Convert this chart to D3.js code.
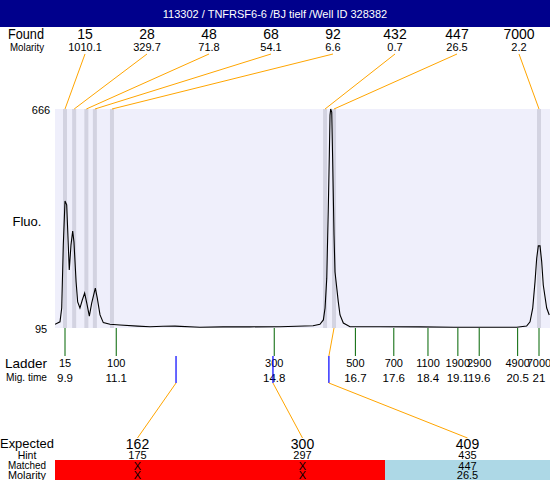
<!DOCTYPE html>
<html><head><meta charset="utf-8">
<script src="https://cdn.jsdelivr.net/npm/d3@7"></script>
<style>
body{margin:0;background:#fff;}
svg text{font-family:"Liberation Sans",Arial,sans-serif;}
</style></head>
<body>
<svg id="c" width="550" height="480"></svg>
<script>
const title = "113302 / TNFRSF6-6 /BJ tielf /Well ID 328382";
const foundSizes = ["15","28","48","68","92","432","447","7000"];
const foundMolarity = ["1010.1","329.7","71.8","54.1","6.6","0.7","26.5","2.2"];
const foundTimes = [9.9, 10.115, 10.40, 10.60, 11.0, 15.99, 16.2, 21.0];
const ladderSizes = ["15","100","300","500","700","1100","1900","2900","4900","7000"];
const ladderTimes = [9.9, 11.1, 14.8, 16.7, 17.6, 18.4, 19.1, 19.6, 20.5, 21];
const ladderTimeLabels = ["9.9","11.1","14.8","16.7","17.6","18.4","19.1","19.6","20.5","21"];
const expected = ["162","300","409"];
const expectedTimes = [12.50, 14.77, 16.08];
const hints = ["175","297","435"];
const matched = ["X","X","447"];
const matchedMolarity = ["X","X","26.5"];
const matchedFoundIndex = [null, null, 6];
const yTicks = [95, 666];
const traceTime = [9.666,9.783,9.823,9.86,9.9,9.94,9.977,10.0,10.04,10.08,10.11,10.16,10.197,10.25,10.305,10.36,10.41,10.47,10.525,10.61,10.656,10.72,10.797,10.954,11.188,11.6,11.89,12.195,12.476,13.06,13.6,14.23,14.935,15.708,15.87,15.95,15.99,16.03,16.066,16.09,16.106,16.122,16.146,16.169,16.2,16.223,16.3,16.34,16.418,16.574,17.277,18.214,19.0,19.619,20.478,20.71,20.79,20.853,20.907,20.946,20.984,21.024,21.063,21.1,21.18,21.24];
const traceFluo = [104.6,111,147,311,426,416,311,246,311,348,319,215,163,147,168,186,160,126,160,199,173,129,109,104.6,103,100,98.4,99.5,100,97,98,98,98.4,101,104.6,116,147,225,408,546,650,666,658,528,337,241,163,129,108,98.4,98.4,98,97,97,96.8,100,111,147,216,277,309,309,268,207,147,129];

const svg = d3.select("#c");
const W = 550, H = 480;
const plot = {left:55, right:550, top:109, bottom:328};

const x = d3.scaleLinear().domain([9.9, 21]).range([65, 539]);
const y = d3.scaleLinear().domain([95, 666]).range([plot.bottom, plot.top]);
const foundCol = d3.scalePoint().domain(d3.range(foundSizes.length)).range([85, 519]);
const expCol = d3.scaleBand().domain(d3.range(expected.length)).range([55, 550]);

// Title bar
svg.append("rect").attr("x",0).attr("y",0).attr("width",W).attr("height",27).attr("fill","#00008C");
svg.append("text").attr("x",275).attr("y",17.5).attr("text-anchor","middle").attr("fill","#fff").attr("font-size",11).text(title);

// Row labels
const lab = (t,xx,yy,fs,len)=>{
  const s = svg.append("text").attr("x",xx).attr("y",yy).attr("text-anchor","middle").attr("dominant-baseline","central").attr("font-size",fs).attr("fill","#000").text(t);
  if(len) s.attr("textLength",len).attr("lengthAdjust","spacingAndGlyphs");
  return s;
};
lab("Found",26,34,14,36);
lab("Molarity",27,46.5,10.5,34);
lab("Fluo.",27,221,13,29);
lab("Ladder",26,363,13,42);
lab("Mig. time",26.5,377,11,41);
lab("Expected",27,443,13.5,54);
lab("Hint",27,454.5,10.5);
lab("Matched",27,465,10.5,38);
lab("Molarity",27,474.5,10.5,38);

// Plot background
svg.append("rect").attr("x",plot.left).attr("y",plot.top).attr("width",plot.right-plot.left).attr("height",plot.bottom-plot.top).attr("fill","#EFEFFB");

// Found bands
svg.append("g").selectAll("rect").data(foundTimes).join("rect")
  .attr("x",d=>x(d)-2).attr("y",plot.top).attr("width",4).attr("height",plot.bottom-plot.top)
  .attr("fill","#D3D3E1");

// y tick labels
svg.append("g").selectAll("text").data(yTicks).join("text")
  .attr("x",41).attr("y",d=>y(d)+1).attr("text-anchor","middle").attr("dominant-baseline","central")
  .attr("font-size",11).text(d=>d);

// Trace
svg.append("clipPath").attr("id","pc").append("rect")
  .attr("x",plot.left).attr("y",plot.top-1).attr("width",plot.right-plot.left).attr("height",plot.bottom-plot.top+1);
const line = d3.line().x(d=>x(d[0])).y(d=>y(d[1]));
svg.append("path").attr("d",line(traceTime.map((t,i)=>[t,traceFluo[i]])))
  .attr("fill","none").attr("stroke","#000").attr("stroke-width",1.1).attr("clip-path","url(#pc)");

// Found labels + connectors
svg.append("g").selectAll("text").data(foundSizes).join("text")
  .attr("x",(d,i)=>foundCol(i)).attr("y",34).attr("text-anchor","middle").attr("dominant-baseline","central")
  .attr("font-size",14).text(d=>d);
svg.append("g").selectAll("text").data(foundMolarity).join("text")
  .attr("x",(d,i)=>foundCol(i)).attr("y",46.5).attr("text-anchor","middle").attr("dominant-baseline","central")
  .attr("font-size",11).text(d=>d);
svg.append("g").selectAll("line").data(foundTimes).join("line")
  .attr("x1",(d,i)=>foundCol(i)).attr("y1",54).attr("x2",d=>x(d)).attr("y2",plot.top)
  .attr("stroke","#FFA500").attr("stroke-width",1);

// Ladder ticks and labels
svg.append("g").selectAll("line").data(ladderTimes).join("line")
  .attr("x1",d=>x(d)).attr("x2",d=>x(d)).attr("y1",plot.bottom).attr("y2",356)
  .attr("stroke","#006400").attr("stroke-width",1);
svg.append("g").selectAll("text").data(ladderSizes).join("text")
  .attr("x",(d,i)=>x(ladderTimes[i])).attr("y",363).attr("text-anchor","middle").attr("dominant-baseline","central")
  .attr("font-size",11).text(d=>d);
svg.append("g").selectAll("text").data(ladderTimeLabels).join("text")
  .attr("x",(d,i)=>x(ladderTimes[i])).attr("y",377.5).attr("text-anchor","middle").attr("dominant-baseline","central")
  .attr("font-size",11.5).text(d=>d);

// Expected connectors
const eg = svg.append("g");
expectedTimes.forEach((t,i)=>{
  const fi = matchedFoundIndex[i];
  if(fi!==null){
    eg.append("line").attr("x1",x(foundTimes[fi])).attr("y1",plot.bottom).attr("x2",x(t)).attr("y2",356)
      .attr("stroke","#FFA500");
  }
  eg.append("line").attr("x1",x(t)).attr("x2",x(t)).attr("y1",356).attr("y2",383).attr("stroke","#0000FF").attr("stroke-width",1.2);
  eg.append("line").attr("x1",x(t)).attr("y1",383).attr("x2",expCol(i)+expCol.bandwidth()/2).attr("y2",438)
    .attr("stroke","#FFA500");
});

// Matched bar
svg.append("g").selectAll("rect").data(matched).join("rect")
  .attr("x",(d,i)=>expCol(i)).attr("y",460).attr("width",expCol.bandwidth()).attr("height",20)
  .attr("fill",d=>d==="X"?"#FF0000":"#ADD8E6");

const cx = i=>expCol(i)+expCol.bandwidth()/2;
svg.append("g").selectAll("text").data(expected).join("text")
  .attr("x",(d,i)=>cx(i)).attr("y",443.5).attr("text-anchor","middle").attr("dominant-baseline","central").attr("font-size",14).text(d=>d);
svg.append("g").selectAll("text").data(hints).join("text")
  .attr("x",(d,i)=>cx(i)).attr("y",455).attr("text-anchor","middle").attr("dominant-baseline","central").attr("font-size",11).text(d=>d);
svg.append("g").selectAll("text").data(matched).join("text")
  .attr("x",(d,i)=>cx(i)).attr("y",465.5).attr("text-anchor","middle").attr("dominant-baseline","central").attr("font-size",11).text(d=>d);
svg.append("g").selectAll("text").data(matchedMolarity).join("text")
  .attr("x",(d,i)=>cx(i)).attr("y",475).attr("text-anchor","middle").attr("dominant-baseline","central").attr("font-size",11).text(d=>d);
</script>
</body></html>
